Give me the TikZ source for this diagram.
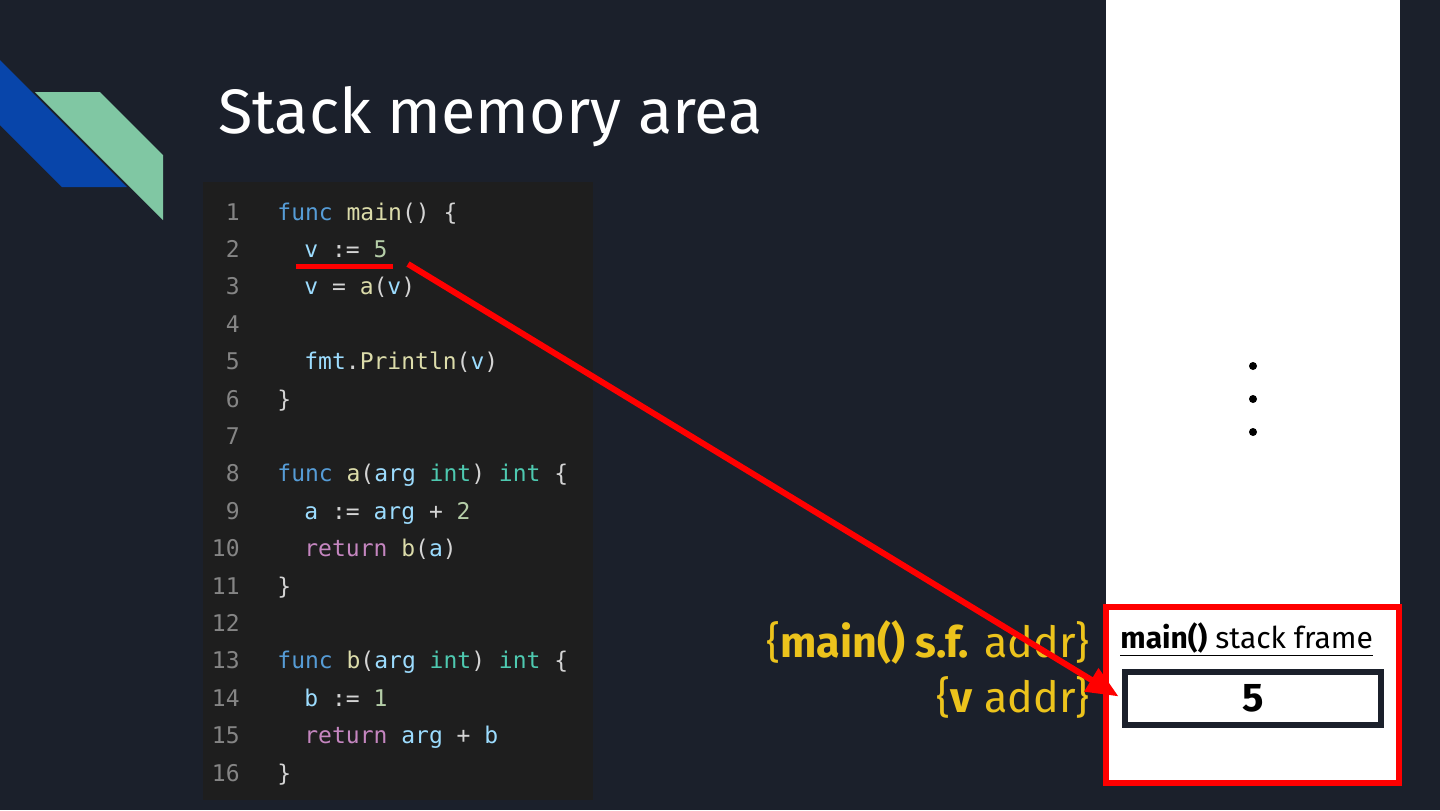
\documentclass[tikz,border=0pt]{standalone}
\usepackage{fontspec}
\setmainfont{Fira Sans}
\setmonofont{DejaVu Sans Mono}
\usepackage{xcolor}
\usetikzlibrary{arrows.meta, positioning, calc}

\definecolor{slidebg}{HTML}{1B202B}
\definecolor{codebg}{HTML}{1E1E1E}
\definecolor{codefg}{HTML}{D4D4D4}
\definecolor{lnumgray}{HTML}{858585}
\definecolor{kwblue}{HTML}{569CD6}
\definecolor{fnyellow}{HTML}{DCDCAA}
\definecolor{idblue}{HTML}{9CDCFE}
\definecolor{numgreen}{HTML}{B5CEA8}
\definecolor{tyteal}{HTML}{4EC9B0}
\definecolor{retpink}{HTML}{C586C0}
\definecolor{addryellow}{HTML}{ECC31C}
\definecolor{logoblue}{HTML}{0845AA}
\definecolor{logogreen}{HTML}{80C7A3}

\newcommand{\kwd}[1]{\textcolor{kwblue}{#1}}
\newcommand{\fnm}[1]{\textcolor{fnyellow}{#1}}
\newcommand{\idn}[1]{\textcolor{idblue}{#1}}
\newcommand{\numl}[1]{\textcolor{numgreen}{#1}}
\newcommand{\typ}[1]{\textcolor{tyteal}{#1}}
\newcommand{\rtn}[1]{\textcolor{retpink}{#1}}

\begin{document}
\begin{tikzpicture}[
  x=0.5pt, y=-0.5pt,
  code/.style={anchor=base west, inner sep=0pt, text=codefg,
               font=\ttfamily\fontsize{11.5}{13}\selectfont},
  lnum/.style={anchor=base east, inner sep=0pt, text=lnumgray,
               font=\ttfamily\fontsize{11.5}{13}\selectfont},
  addr/.style={anchor=east, inner sep=0pt, text=addryellow,
               font=\fontsize{21.5}{25}\selectfont},
  framebox/.style={rectangle, draw=red, line width=3pt, fill=white,
                   minimum width=146.5pt, minimum height=88pt},
  valbox/.style={rectangle, draw=slidebg, line width=3pt, fill=white,
                 minimum width=128pt, minimum height=26.5pt,
                 font=\bfseries\fontsize{20}{24}\selectfont},
  redarr/.style={-{Triangle[length=16pt, width=13pt]}, line width=3pt, red},
  redline/.style={line width=2.5pt, red}
]
%% Slide background
\useasboundingbox (0,0) rectangle (1440,810);
\fill[slidebg] (0,0) rectangle (1440,810);
%% Corner logo
\fill[logoblue] (0,60) -- (127,187) -- (62,187) -- (0,125) -- cycle;
\fill[logogreen] (35,92) -- (100,92) -- (163,155) -- (163,220) -- cycle;
%% Title
\node[anchor=base west, inner sep=0pt, text=white,
      font=\fontsize{31.4}{38}\selectfont] (title) at (218,133) {Stack memory area};
%% Code panel
\fill[codebg] (203,182) rectangle (593,800);
\foreach \i in {1,...,16}{
  \node[lnum] (n\i) at (240,{220+37.4*(\i-1)}) {\i};}
\node[code] (c1)  at (277,220)   {\kwd{func} \fnm{main}() \{};
\node[code] (c2)  at (304,257.4) {\idn{v} := \numl{5}};
\node[code] (c3)  at (304,294.8) {\idn{v} = \fnm{a}(\idn{v})};
\node[code] (c5)  at (304,369.6) {\idn{fmt}.\fnm{Println}(\idn{v})};
\node[code] (c6)  at (277,407)   {\}};
\node[code] (c8)  at (277,481.8) {\kwd{func} \fnm{a}(\idn{arg} \typ{int}) \typ{int} \{};
\node[code] (c9)  at (304,519.2) {\idn{a} := \idn{arg} + \numl{2}};
\node[code] (c10) at (304,556.6) {\rtn{return} \fnm{b}(\idn{a})};
\node[code] (c11) at (277,594)   {\}};
\node[code] (c13) at (277,668.8) {\kwd{func} \fnm{b}(\idn{arg} \typ{int}) \typ{int} \{};
\node[code] (c14) at (304,706.2) {\idn{b} := \numl{1}};
\node[code] (c15) at (304,743.6) {\rtn{return} \idn{arg} + \idn{b}};
\node[code] (c16) at (277,781)   {\}};
%% Memory column
\fill[white] (1106,0) rectangle (1400,606);
\foreach \y in {366,399,432}{
  \fill[black] (1253,\y) circle (2pt);}
\node[framebox] (sf) at (1252.5,695) {};
\node[anchor=base west, inner sep=0pt, font=\fontsize{15}{18}\selectfont]
  (sflabel) at (1120,648) {\underline{\textbf{main()} stack frame}};
\node[valbox] (val) at (1253,698.5) {5};
%% Address labels
\node[addr] (sfaddr) at (1090,642) {\{\textbf{main() s.f.} addr\}};
\node[addr] (vaddr)  at (1090,697) {\{\textbf{v} addr\}};
%% Underline and arrow
\coordinate (ustart) at (296,266);
\coordinate (uend) at (393,266);
\coordinate (src) at (408,264);
\draw[redline] (ustart) -- (uend);
\draw[redarr, shorten >=2pt] (src) -- (val.west);
\end{tikzpicture}
\end{document}
